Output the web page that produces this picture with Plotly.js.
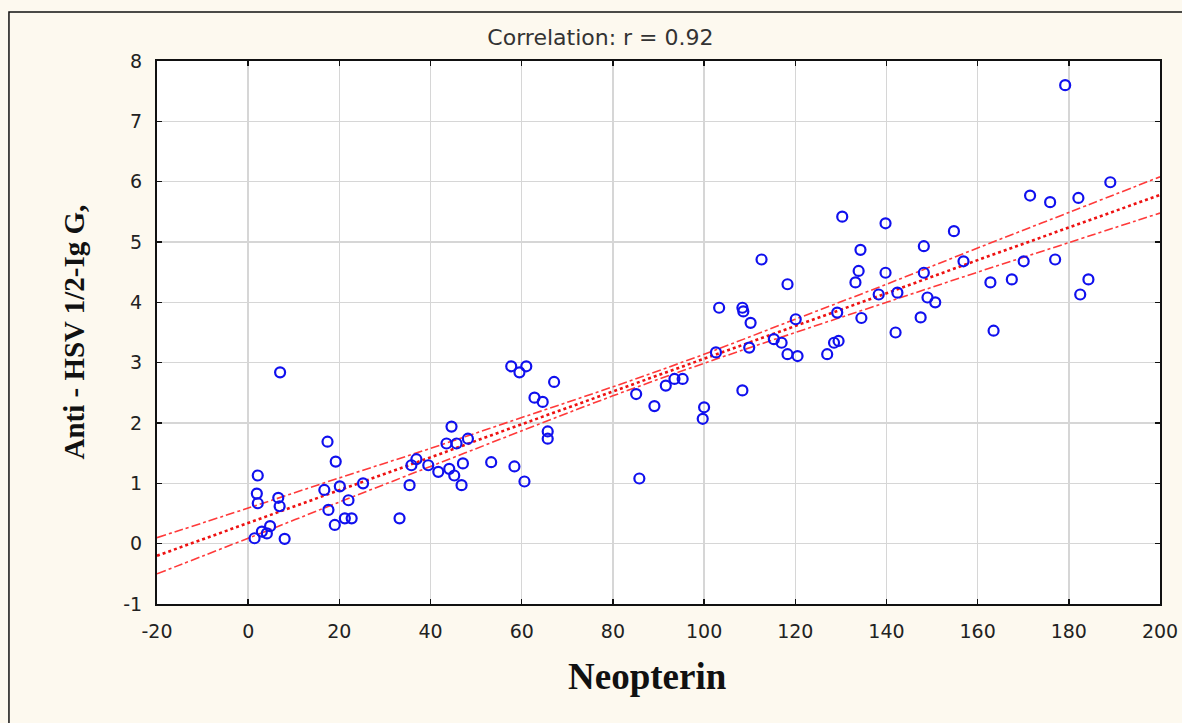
<!DOCTYPE html>
<html>
<head>
<meta charset="utf-8">
<script src="https://cdn.plot.ly/plotly-3.0.1.min.js"></script>
<style>
html,body{margin:0;padding:0;background:#fdf9ef;}
#chart{width:1182px;height:723px;}
</style>
</head>
<body>
<div id="chart"></div>
<script>
// Scatter data: Neopterin (x) vs Anti-HSV 1/2 IgG (y)
const neopterin = [1.4,2.1,1.9,2.1,6.6,6.9,3.0,4.8,4.1,8.0,7.0,17.4,19.2,16.7,20.1,22.0,17.6,19.0,21.2,22.7,25.2,33.2,
  35.4,35.8,36.9,39.5,41.7,43.5,44.1,44.6,45.2,45.7,46.8,47.1,48.2,53.3,57.7,58.4,59.5,60.6,61.0,62.8,64.6,65.7,65.7,67.1,
  85.1,85.8,89.1,91.6,93.5,95.3,99.7,100.0,102.6,103.3,108.4,108.4,108.6,109.9,110.2,112.6,115.3,117.0,118.3,118.3,120.1,120.5,
  127.0,128.5,129.5,129.2,130.3,133.2,134.5,133.9,134.3,138.3,139.8,139.8,142.0,142.4,147.5,148.2,148.2,149.0,150.7,154.8,156.9,
  162.8,163.5,167.5,170.1,171.5,175.9,177.0,179.2,182.1,182.5,184.3,189.1];
const antiHSV = [0.09,1.13,0.83,0.67,0.76,0.62,0.20,0.29,0.17,0.08,2.84,1.69,1.36,0.89,0.95,0.72,0.56,0.31,0.42,0.42,1.00,0.42,
  0.97,1.30,1.40,1.30,1.19,1.66,1.24,1.94,1.13,1.66,0.97,1.33,1.74,1.35,2.94,1.28,2.84,1.03,2.94,2.42,2.35,1.86,1.74,2.68,
  2.48,1.08,2.28,2.62,2.73,2.73,2.07,2.26,3.17,3.91,2.54,3.91,3.85,3.25,3.66,4.71,3.39,3.33,4.30,3.14,3.72,3.11,
  3.14,3.33,3.36,3.83,5.42,4.33,3.74,4.52,4.87,4.13,5.31,4.49,3.50,4.16,3.75,4.93,4.49,4.08,4.00,5.18,4.68,
  4.33,3.53,4.38,4.68,5.77,5.66,4.71,7.60,5.73,4.13,4.38,5.99];

// Regression line and 95% confidence band
const bandX  = [-20, 0, 20, 40, 60, 80, 100, 120, 140, 160, 180, 200];
const fitY   = [-0.20, 0.34, 0.89, 1.43, 1.98, 2.52, 3.06, 3.61, 4.15, 4.70, 5.24, 5.78];
const upperY = [0.10, 0.59, 1.09, 1.58, 2.09, 2.60, 3.14, 3.72, 4.30, 4.90, 5.49, 6.08];
const lowerY = [-0.50, 0.09, 0.69, 1.28, 1.87, 2.45, 2.99, 3.50, 4.00, 4.50, 4.99, 5.48];

const xTicks = [-20,0,20,40,60,80,100,120,140,160,180,200];
const yTicks = [-1,0,1,2,3,4,5,6,7,8];

const chartTitle = 'Correlation: r = 0.92';
const xTitle = 'Neopterin';
const yTitle = 'Anti - HSV 1/2-Ig G,';

const traces = [
  {x: bandX, y: upperY, mode:'lines', line:{color:'#ff3a3a', width:1.6, dash:'dashdot', shape:'spline'}, hoverinfo:'skip'},
  {x: bandX, y: lowerY, mode:'lines', line:{color:'#ff3a3a', width:1.6, dash:'dashdot', shape:'spline'}, hoverinfo:'skip'},
  {x: bandX, y: fitY, mode:'lines', line:{color:'#ee1111', width:2.6, dash:'dot'}, hoverinfo:'skip'},
  {x: neopterin, y: antiHSV, mode:'markers', type:'scatter',
   marker:{symbol:'circle-open', size:10, color:'#1010ee', line:{width:2.2, color:'#1010ee'}}}
];

const axisCommon = {
  showline:true, linecolor:'#111', linewidth:2, mirror:'ticks',
  ticks:'inside', ticklen:5, tickcolor:'#111', tickwidth:1.5,
  showgrid:true, gridcolor:'#d6d6d6', gridwidth:1.5, zeroline:false,
  ticklabelstandoff:9,
  tickfont:{family:'DejaVu Sans, Arial, sans-serif', size:19, color:'#222'}
};

const layout = {
  width:1182, height:723,
  paper_bgcolor:'#fdf9ef', plot_bgcolor:'#ffffff',
  margin:{l:157, r:22, t:61, b:119},
  showlegend:false,
  title:{text:chartTitle, x:0.508, xanchor:'center', y:0.949, yanchor:'middle',
         font:{family:'DejaVu Sans, Arial, sans-serif', size:22, color:'#333'}},
  xaxis: Object.assign({}, axisCommon, {
    range:[-20,200], tickvals:xTicks, ticktext:xTicks.map(String)
  }),
  yaxis: Object.assign({}, axisCommon, {
    range:[-1,8], tickvals:yTicks, ticktext:yTicks.map(String)
  }),
  annotations:[
    {text:'<b>'+xTitle+'</b>', xref:'paper', yref:'paper', x:0.4895, y:-0.134,
     xanchor:'center', yanchor:'middle', showarrow:false,
     font:{family:'Liberation Serif, Times New Roman, serif', size:37, color:'#111'}},
    {text:'<b>'+yTitle+'</b>', xref:'paper', yref:'paper', x:-0.0837, y:0.50,
     xanchor:'center', yanchor:'middle', showarrow:false, textangle:-90,
     font:{family:'Liberation Serif, Times New Roman, serif', size:29, color:'#111'}}
  ],
  shapes:[
    {type:'rect', xref:'paper', yref:'paper', x0:-0.1476, x1:1.04, y0:-0.3, y1:1.0902,
     line:{color:'#111', width:1.5}, fillcolor:'rgba(0,0,0,0)', layer:'below'}
  ]
};

Plotly.newPlot('chart', traces, layout, {displayModeBar:false, staticPlot:true});
</script>
</body>
</html>
